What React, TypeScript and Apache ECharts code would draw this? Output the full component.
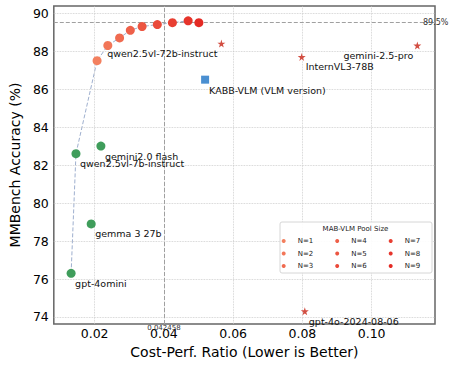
import React, { useEffect, useRef } from 'react';
import * as echarts from 'echarts';

// MAB-VLM pool size results
const poolNames = ['N=1', 'N=2', 'N=3', 'N=4', 'N=5', 'N=6', 'N=7', 'N=8', 'N=9'];
const poolCost = [0.0207, 0.0238, 0.0272, 0.0303, 0.0337, 0.0381, 0.042458, 0.047, 0.0501];
const poolAcc = [87.5, 88.3, 88.7, 89.1, 89.3, 89.4, 89.5, 89.6, 89.5];
const poolColors = ['#f3805f', '#f27658', '#f06b50', '#ee6049', '#ec5541', '#ea4a3a', '#e83f32', '#e6342b', '#e42a24'];

// Base (pool member) models
const baseNames = ['gpt-4omini', 'qwen2.5vl-7b-instruct', 'gemma 3 27b', 'gemini2.0 flash'];
const baseCost = [0.0132, 0.0146, 0.019, 0.0218];
const baseAcc = [76.3, 82.6, 78.9, 83.0];

// Reference (large) models
const refNames = ['qwen2.5vl-72b-instruct', 'InternVL3-78B', 'gemini-2.5-pro', 'gpt-4o-2024-08-06'];
const refCost = [0.0566, 0.0798, 0.1132, 0.0807];
const refAcc = [88.4, 87.7, 88.3, 74.3];
const refLabelLeft = [true, false, true, false];

// KABB
const kabbNames = ['KABB-VLM (VLM version)'];
const kabbCost = [0.0519];
const kabbAcc = [86.5];

// Frontier: first two base models then the first 8 pool sizes
const frontierBaseIdx = [0, 1];
const frontierPoolCount = 8;

const xTicks = [0.02, 0.04, 0.06, 0.08, 0.1];
const yTicks = [74, 76, 78, 80, 82, 84, 86, 88, 90];
const bestAcc = 89.5;
const bestCost = 0.042458;

const FONT = 'DejaVu Sans';
const STAR = 'path://M50,0 L61,35 L98,35 L68,57 L79,91 L50,70 L21,91 L32,57 L2,35 L39,35 Z';

export default function App() {
  const ref = useRef<HTMLDivElement>(null);
  useEffect(() => {
    if (!ref.current) return;
    const chart = echarts.init(ref.current, undefined, { renderer: 'svg' });

    const labelBase = { fontFamily: FONT, fontSize: 9.5, color: '#111' };

    const frontier = [
      ...frontierBaseIdx.map((i) => [baseCost[i], baseAcc[i]]),
      ...poolCost.slice(0, frontierPoolCount).map((c, i) => [c, poolAcc[i]]),
    ];

    const poolSeries = poolNames.map((n, i) => ({
      type: 'scatter',
      name: n,
      data: [[poolCost[i], poolAcc[i]]],
      symbol: 'circle',
      symbolSize: 9,
      itemStyle: { color: poolColors[i], opacity: 1 },
      z: 5,
    }));

    const legendCols = [0, 1, 2].map((c) => ({
      data: poolNames.slice(c * 3, c * 3 + 3),
      orient: 'vertical',
      left: 281.7 + c * 53.5,
      top: 236.5,
      padding: 0,
      itemGap: 3.5,
      itemWidth: 18,
      itemHeight: 4,
      icon: 'circle',
      textStyle: { fontFamily: FONT, fontSize: 7, color: '#222', lineHeight: 9 },
      z: 20,
    }));

    chart.setOption({
      animation: false,
      backgroundColor: '#fff',
      grid: { left: 44, right: 22, top: 6, bottom: 41, show: true, borderColor: '#666', borderWidth: 1.5, backgroundColor: 'transparent' },
      xAxis: {
        type: 'value',
        min: 0.0082,
        max: 0.1183,
        name: 'Cost-Perf. Ratio (Lower is Better)',
        nameLocation: 'middle',
        nameGap: 20,
        nameTextStyle: { fontFamily: FONT, fontSize: 14, color: '#000' },
        axisLine: { show: false },
        axisTick: { show: false },
        splitLine: { show: false },
        axisLabel: {
          customValues: xTicks,
          formatter: (v: number) => v.toFixed(2),
          fontFamily: FONT,
          fontSize: 12.5,
          color: '#000',
          margin: 3,
        },
      },
      yAxis: {
        type: 'value',
        min: 73.63,
        max: 90.38,
        name: 'MMBench Accuracy (%)',
        nameLocation: 'middle',
        nameGap: 24,
        nameTextStyle: { fontFamily: FONT, fontSize: 14, color: '#000' },
        axisLine: { show: false },
        axisTick: { show: false },
        splitLine: { show: false },
        axisLabel: {
          customValues: yTicks,
          formatter: (v: number) => String(Math.round(v)),
          fontFamily: FONT,
          fontSize: 12.5,
          color: '#000',
          margin: 5,
        },
      },
      legend: legendCols,
      graphic: [
        { type: 'rect', z: 10, shape: { x: 280, y: 222, width: 152, height: 51, r: 2 }, style: { fill: 'rgba(255,255,255,0.9)', stroke: '#d6d6d6', lineWidth: 1 } },
        { type: 'text', z: 11, x: 355.5, y: 229, style: { text: 'MAB-VLM Pool Size', fontFamily: FONT, fontSize: 7, fill: '#222', textAlign: 'center', textVerticalAlign: 'middle' } },
      ],
      series: [
        {
          type: 'line',
          name: 'frontier',
          data: frontier,
          symbol: 'none',
          lineStyle: { type: 'dashed', color: '#9fb0cf', width: 1 },
          z: 3,
          silent: true,
          markLine: {
            silent: true,
            symbol: 'none',
            animation: false,
            label: { show: false },
            lineStyle: { type: 'dotted', color: '#c8c8c8', width: 0.8 },
            data: [
              ...xTicks.map((v) => ({ xAxis: v })),
              ...yTicks.map((v) => ({ yAxis: v })),
              {
                yAxis: bestAcc,
                lineStyle: { type: 'dashed', color: '#a0a0a0', width: 1 },
                label: { show: true, position: 'end', distance: -12, formatter: bestAcc + '%', fontFamily: FONT, fontSize: 8, color: '#333' },
              },
              {
                xAxis: bestCost,
                lineStyle: { type: 'dashed', color: '#a0a0a0', width: 1 },
                label: { show: true, position: 'start', distance: 0, formatter: String(bestCost), fontFamily: FONT, fontSize: 7, color: '#333' },
              },
            ],
          },
        },
        ...poolSeries,
        {
          type: 'scatter',
          name: 'base',
          data: baseNames.map((n, i) => ({ name: n, value: [baseCost[i], baseAcc[i]] })),
          symbol: 'circle',
          symbolSize: 9,
          itemStyle: { color: '#3f9d5b', opacity: 1 },
          label: { show: true, position: 'inside', align: 'left', verticalAlign: 'middle', offset: [4, 10], formatter: '{b}', ...labelBase },
          z: 5,
        },
        {
          type: 'scatter',
          name: 'ref',
          data: refNames.map((n, i) => ({
            name: n,
            value: [refCost[i], refAcc[i]],
            label: refLabelLeft[i] ? { align: 'right', offset: [-4, 10] } : { align: 'left', offset: [4, 10] },
          })),
          symbol: STAR,
          symbolSize: 8,
          itemStyle: { color: '#d24e42', opacity: 1 },
          label: { show: true, position: 'inside', verticalAlign: 'middle', formatter: '{b}', ...labelBase },
          z: 5,
        },
        {
          type: 'scatter',
          name: 'kabb',
          data: kabbNames.map((n, i) => ({ name: n, value: [kabbCost[i], kabbAcc[i]] })),
          symbol: 'rect',
          symbolSize: 8,
          itemStyle: { color: '#4a8fd1', opacity: 1 },
          label: { show: true, position: 'inside', align: 'left', verticalAlign: 'middle', offset: [4, 10.5], formatter: '{b}', ...labelBase },
          z: 5,
        },
      ],
    });
    return () => chart.dispose();
  }, []);
  return <div ref={ref} style={{ position: 'fixed', left: 0, top: 0, width: 457, height: 365 }} />;
}
